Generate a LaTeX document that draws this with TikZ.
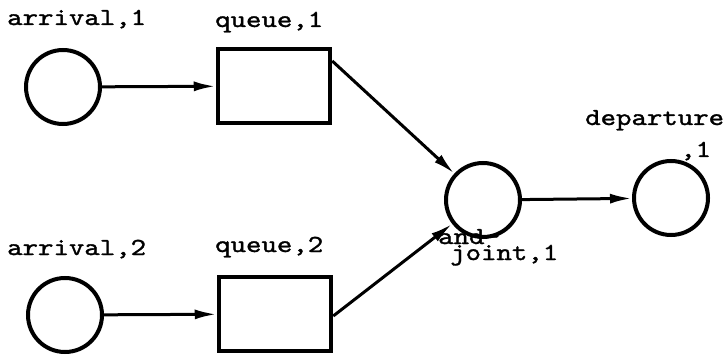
\documentclass[tikz,border=0pt]{standalone}
\usepackage{fontspec}
\usetikzlibrary{arrows.meta}
\newfontfamily\twfont[FakeBold=1.2]{lmmono10-regular.otf}
\newcommand{\tw}[1]{\scalebox{1.2}[1]{\twfont\fontsize{24.5pt}{26pt}\selectfont #1}}
\begin{document}
\begin{tikzpicture}[x=1pt,y=-1pt,
  place/.style={circle,draw,line width=4pt,minimum size=74pt,inner sep=0pt},
  transition/.style={rectangle,draw,line width=4.5pt,minimum width=112pt,minimum height=74pt,inner sep=0pt},
  label text/.style={inner sep=0pt,anchor=base west},
  arc/.style={line width=3pt,-{Latex[length=22pt,width=10pt]}}]
  \useasboundingbox (0,0) rectangle (727,355);

  % places and transitions
  \node[place] (a1) at (63,87) {};
  \node[transition] (q1) at (274,86) {};
  \node[place] (a2) at (65,315) {};
  \node[transition] (q2) at (275,314) {};
  \node[place] (aj) at (483,200) {};
  \node[place] (dep) at (671,198) {};

  % labels
  \node[label text] (la1) at (7,25) {\tw{arrival,1}};
  \node[label text] (lq1) at (215,27) {\tw{queue,1}};
  \node[label text] (la2) at (7,255) {\tw{arrival,2}};
  \node[label text] (lq2) at (215,252) {\tw{queue,2}};
  \node[label text] (ldep) at (585,125) {\tw{departure}};
  \node[label text] (ldep2) at (680,157) {\tw{,1}};
  \node[label text] (laj) at (438,244) {\tw{and-}};
  \node[label text] (laj2) at (450,260) {\tw{joint,1}};

  % arcs
  \coordinate (q1out) at ([yshift=25pt]q1.east);
  \coordinate (q2out) at ([yshift=-2pt]q2.east);
  \draw[arc] (a1) -- (q1);
  \draw[arc] (a2) -- (q2);
  \draw[arc] (q1out) -- (aj);
  \draw[arc] (q2out) -- (aj);
  \draw[arc] (aj) -- (dep);
\end{tikzpicture}
\end{document}
